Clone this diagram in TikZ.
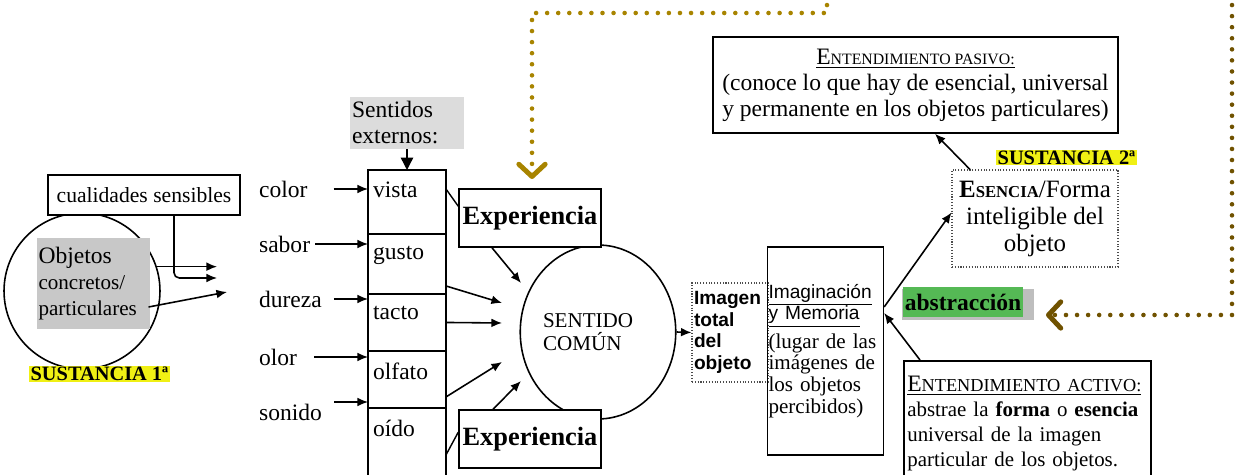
\documentclass[tikz,border=0pt]{standalone}
\usepackage{fontspec}
\setmainfont{Liberation Serif}
\setsansfont{Liberation Sans}
\usetikzlibrary{arrows.meta,positioning,shapes.geometric}

\definecolor{oro}{RGB}{168,132,0}
\definecolor{pardo}{RGB}{112,82,0}
\definecolor{grisobj}{RGB}{200,200,200}
\definecolor{grissen}{RGB}{220,220,220}
\definecolor{sombra}{RGB}{190,190,190}
\definecolor{amarillo}{RGB}{240,240,20}
\definecolor{verde}{RGB}{85,185,85}

\tikzset{
  caja/.style={draw, line width=0.9pt, inner sep=2pt},
  punteada/.style={draw=black!70, densely dotted, line width=0.6pt},
  flecha/.style={-{Latex[length=6pt,width=5pt]}, line width=0.9pt},
  celda/.style={draw, line width=0.9pt, minimum width=1.56cm, outer sep=0pt, anchor=north},
  rotulo/.style={font=\fontsize{13.4}{15}\selectfont, inner sep=1pt},
  resalte/.style={font=\bfseries\fontsize{11.6}{13}\selectfont, fill=amarillo, inner xsep=1pt, inner ysep=0.5pt},
  guia/.style={line width=2.6pt, line cap=round, dash pattern=on 0pt off 6.3pt},
  punta/.style={-{Straight Barb[length=7pt,width=15pt,line width=2.8pt,round]}}
}

\begin{document}
\begin{tikzpicture}[x=0.02cm, y=-0.02cm]
\useasboundingbox (0,0) rectangle (1238,475);

% sustancia primera
\node[circle, draw, line width=0.9pt, minimum size=3.12cm] (circ) at (82,291) {};
\node[fill=grisobj, minimum width=2.26cm, minimum height=1.82cm, text width=2.2cm, align=left, inner sep=1pt,
      font=\fontsize{12}{14.8}\selectfont] (obj) at (93.5,283.5)
      {{\fontsize{13.4}{14.8}\selectfont Objetos}\\concretos/\\particulares};
\node[caja, fill=white, minimum width=3.84cm, minimum height=0.8cm, font=\fontsize{12.3}{14}\selectfont]
      (cual) at (144,195) {cualidades sensibles};
\node[resalte] (sus1) at (99.5,374) {SUSTANCIA 1ª};

\coordinate (d1) at (217,265);
\coordinate (d2) at (217,278);
\coordinate (d3) at (227,292);
\draw[flecha] (circ.18) -- (circ.18 -| d1);
\draw[flecha, rounded corners=3pt] ([xshift=0.6cm]cual.south) |- (d2);
\draw[flecha] ([shift={(-0.04cm,-0.47cm)}]obj.east) -- (d3);

% cualidades
\node[rotulo, anchor=west] (color) at (257,189) {color};
\node[rotulo, anchor=west] (sabor) at (257,244) {sabor};
\node[rotulo, anchor=west] (dureza) at (257,299) {dureza};
\node[rotulo, anchor=west] (olor) at (257,357) {olor};
\node[rotulo, anchor=west] (sonido) at (257,412) {sonido};

% sentidos externos
\node[celda, minimum height=1.28cm] (vista) at (407,170) {};
\node[celda, minimum height=1.2cm, below=0pt of vista] (gusto) {};
\node[celda, minimum height=1.14cm, below=0pt of gusto] (tacto) {};
\node[celda, minimum height=1.14cm, below=0pt of tacto] (olfato) {};
\node[celda, minimum height=1.4cm, below=0pt of olfato] (oido) {};

\node[rotulo, anchor=north west] (tvista) at ([shift={(0.06cm,-0.2cm)}]vista.north west) {vista};
\node[rotulo, anchor=north west] (tgusto) at ([shift={(0.06cm,-0.2cm)}]gusto.north west) {gusto};
\node[rotulo, anchor=north west] (ttacto) at ([shift={(0.06cm,-0.2cm)}]tacto.north west) {tacto};
\node[rotulo, anchor=north west] (tolfato) at ([shift={(0.06cm,-0.2cm)}]olfato.north west) {olfato};
\node[rotulo, anchor=north west] (toido) at ([shift={(0.06cm,-0.2cm)}]oido.north west) {oído};

\node[fill=grissen, minimum width=2.28cm, minimum height=1.04cm, text width=2.2cm, align=left, inner sep=1pt,
      font=\fontsize{13.4}{14.8}\selectfont] (ext) at (407,123) {Sentidos\\externos:};
\draw[-{Triangle[length=7pt,width=7pt]}, line width=0.8pt] (ext.south) -- (vista.north);

\coordinate (sonidoarr) at ([shift={(0.2cm,0.2cm)}]sonido.east);
\draw[flecha] ([xshift=0.48cm]color.east) -- (color.east -| vista.west);
\draw[flecha] ([xshift=0.06cm]sabor.east) -- (sabor.east -| gusto.west);
\draw[flecha] ([xshift=0.2cm]dureza.east) -- (dureza.east -| tacto.west);
\draw[flecha] ([xshift=0.3cm]olor.east) -- (olor.east -| olfato.west);
\draw[flecha] (sonidoarr) -- (sonidoarr -| olfato.west);

% sentido comun
\node[ellipse, draw, line width=0.9pt, minimum width=3.08cm, minimum height=3.48cm, text width=2.2cm,
      align=left, inner sep=0pt, font=\fontsize{12}{13}\selectfont] (comun) at (598,332) {SENTIDO\\COMÚN};
\node[caja, fill=white, minimum width=2.84cm, minimum height=1.16cm, font=\bfseries\fontsize{15}{16}\selectfont]
      (expa) at (530,218) {Experiencia};
\node[caja, fill=white, minimum width=2.84cm, minimum height=1.16cm, font=\bfseries\fontsize{15}{16}\selectfont]
      (expb) at (530,439) {Experiencia};

\draw[line width=0.8pt] ([yshift=-0.38cm]vista.north east) -- ([yshift=-0.36cm]expa.north west);
\draw[line width=0.8pt] ([yshift=-0.94cm]oido.north east) -- ([yshift=-0.46cm]expb.north west);

\coordinate (ent1) at (521,283);
\coordinate (ent2) at (502,303);
\coordinate (ent3) at (502,323);
\coordinate (ent4) at (502,362);
\coordinate (ent5) at (521,381);
\draw[flecha] ([xshift=-0.76cm]expa.south) -- (ent1);
\draw[flecha] ([yshift=0.16cm]gusto.south east) -- (ent2);
\draw[flecha] (tacto.east) -- (ent3);
\draw[flecha] ([yshift=0.22cm]olfato.south east) -- (ent4);
\draw[flecha] ([xshift=-0.74cm]expb.north) -- (ent5);

% imagen e imaginacion
\node[punteada, minimum width=1.52cm, minimum height=1.98cm, text width=1.44cm, align=left, inner sep=1pt,
      font=\sffamily\bfseries\fontsize{10.9}{12.2}\selectfont] (img) at (730,332.5) {Imagen\\total\\del\\objeto};
\draw[flecha] (comun.east) -- (img.west);

\node[caja, minimum width=2.3cm, minimum height=4.16cm, text width=2.28cm, align=left, inner xsep=0.5pt, inner ysep=1pt,
      font=\fontsize{12}{12.4}\selectfont] (imag) at (825.5,351)
      {{\sffamily\fontsize{10.9}{12}\selectfont\underline{Imaginación}\\\underline{y Memoria}}\\[2.5pt](lugar de las\\imágenes de\\los objetos\\percibidos)};

% entendimiento
\node[caja, minimum width=8.1cm, minimum height=1.92cm, align=center, font=\fontsize{13.4}{14.8}\selectfont]
      (pasivo) at (915.5,85)
      {\underline{E{\fontsize{9}{10}\selectfont NTENDIMIENTO PASIVO:}}\\(conoce lo que hay de esencial, universal\\y permanente en los objetos particulares)};

\node[punteada, minimum width=3.32cm, minimum height=1.94cm, align=center, font=\fontsize{14.2}{15.4}\selectfont]
      (esen) at (1035,218.5) {\textbf{E{\fontsize{9.5}{10}\selectfont SENCIA}}/Forma\\inteligible del\\objeto};
\node[resalte] (sus2) at (1066.5,157.5) {SUSTANCIA 2ª};

\fill[sombra] (902,289) rectangle (1034,320);
\node[fill=verde, minimum width=2.4cm, minimum height=0.6cm, inner sep=1pt,
      font=\bfseries\fontsize{13.4}{14}\selectfont] (abs) at (963,302) {abstracción};

\node[caja, anchor=north west, minimum width=4.94cm, minimum height=2.5cm, text width=4.8cm, align=left,
      font=\fontsize{11.9}{14.2}\selectfont] (activo) at (903,360)
      {\underline{{\fontsize{13.4}{14}\selectfont E}{\fontsize{10.4}{12}\selectfont NTENDIMIENTO ACTIVO:}}\\abstrae la \textbf{forma} o \textbf{esencia}\\universal de la imagen\\particular de los objetos.};

\draw[flecha] ([yshift=0.88cm]imag.east) -- ([yshift=0.12cm]esen.west);
\draw[flecha] ([xshift=-1.3cm]esen.north) -- ([xshift=0.39cm]pasivo.south);
\draw[flecha] ([xshift=0.34cm]activo.north west) -- ([yshift=0.76cm]imag.east);

% guias punteadas
\coordinate (g1) at (827,-6);
\coordinate (g2) at (532,13);
\coordinate (g3) at (532,179);
\draw[guia, color=oro, punta] (g1) |- (g2) -- (g3);
\coordinate (g4) at (1232,-6);
\coordinate (g5) at (1046,315);
\draw[guia, color=pardo, punta] (g4) |- (g5);
\end{tikzpicture}
\end{document}
